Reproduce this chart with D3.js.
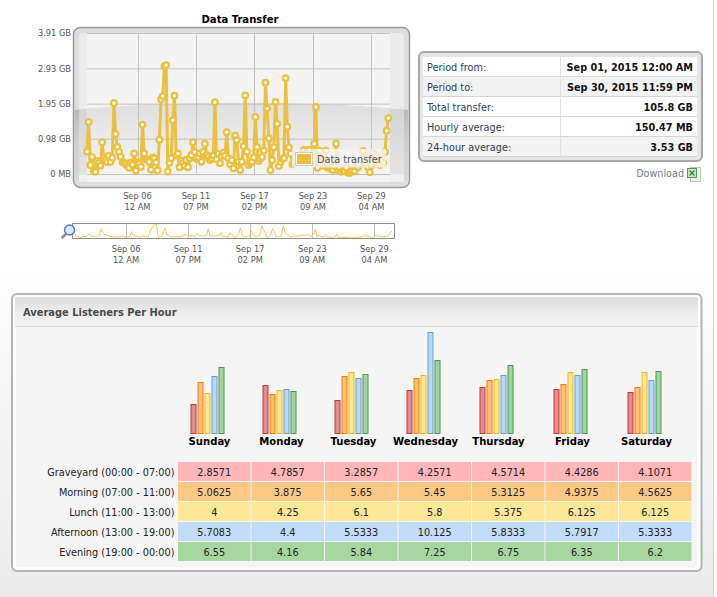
<!DOCTYPE html>
<html>
<head>
<meta charset="utf-8">
<title>Data Transfer</title>
<script src="https://cdn.jsdelivr.net/npm/d3@7"></script>
<style>
    html, body { margin: 0; padding: 0; background: #fff; overflow: hidden; }
    svg { display: block; }
    text { font-family: "DejaVu Sans Condensed", "DejaVu Sans", sans-serif; }
</style>
</head>
<body>
<div id="chart"></div>
<script>
    // GB per 4 hour slot
    var transfer = [
        0.62, 1.44, 0.25, 0.47, 0.08, 0.06, 0.36, 0.31, 0.23, 0.88,
        0.44, 0.39, 0.33, 0.50, 0.34, 0.45, 1.97, 1.11, 0.75, 0.61,
        0.48, 0.33, 0.31, 0.28, 0.22, 0.17, 0.32, 0.26, 0.57, 0.09,
        0.33, 0.28, 0.20, 1.37, 0.57, 0.41, 0.39, 0.34, 0.12, 0.46,
        0.44, 0.32, 0.10, 0.95, 2.07, 2.16, 2.99, 3.02, 0.07, 0.31,
        0.44, 1.49, 2.17, 0.51, 0.57, 0.19, 0.37, 0.31, 0.23, 0.39,
        0.19, 0.44, 0.52, 0.88, 0.61, 0.42, 0.47, 0.57, 0.34, 0.61,
        0.84, 0.53, 0.47, 0.39, 0.44, 0.51, 1.99, 0.41, 0.56, 0.30,
        0.50, 0.59, 0.51, 1.16, 0.44, 0.28, 0.38, 0.16, 1.06, 0.94,
        0.34, 0.11, 0.34, 0.77, 2.18, 0.62, 0.25, 0.31, 0.34, 0.46,
        1.58, 0.75, 0.36, 0.42, 0.47, 0.65, 2.53, 1.82, 0.99, 0.11,
        0.39, 0.74, 2.00, 1.39, 0.22, 0.34, 0.42, 0.44, 2.66, 1.31,
        0.74, 0.57, 0.27, 0.31, 0.44, 0.36, 0.50, 0.39, 0.61, 0.67,
        0.50, 0.67, 0.67, 0.44, 0.39, 0.84, 1.86, 0.17, 0.65, 0.33,
        0.28, 0.22, 0.65, 0.17, 0.19, 0.14, 0.11, 0.22, 0.84, 0.11,
        0.17, 0.06, 0.11, 0.08, 0.17, 0.04, 0.03, 0.06, 0.11, 0.08,
        0.25, 0.19, 0.28, 0.39, 0.64, 0.44, 0.31, 0.19, 0.05, 0.25,
        0.58, 0.39, 0.50, 0.31, 0.25, 0.39, 0.31, 0.61, 1.20, 1.55
    ];
    var yTicks = [0, 0.98, 1.95, 2.93, 3.91];
    var yTickLabels = ["0 MB", "0.98 GB", "1.95 GB", "2.93 GB", "3.91 GB"];
    var xTicks = [
        new Date(2015, 8, 6, 0), new Date(2015, 8, 11, 19), new Date(2015, 8, 17, 14),
        new Date(2015, 8, 23, 9), new Date(2015, 8, 29, 4)
    ];
    var periodStart = new Date(2015, 8, 1, 0, 0);
    var periodEnd = new Date(2015, 8, 30, 23, 59);

    var infoLabels = ["Period from:", "Period to:", "Total transfer:", "Hourly average:", "24-hour average:"];
    var infoValues = ["Sep 01, 2015 12:00 AM", "Sep 30, 2015 11:59 PM", "105.8 GB", "150.47 MB", "3.53 GB"];

    var days = ["Sunday", "Monday", "Tuesday", "Wednesday", "Thursday", "Friday", "Saturday"];
    var periods = ["Graveyard (00:00 - 07:00)", "Morning (07:00 - 11:00)", "Lunch (11:00 - 13:00)", "Afternoon (13:00 - 19:00)", "Evening (19:00 - 00:00)"];
    var graveyard = ["2.8571", "4.7857", "3.2857", "4.2571", "4.5714", "4.4286", "4.1071"];
    var morning = ["5.0625", "3.875", "5.65", "5.45", "5.3125", "4.9375", "4.5625"];
    var lunch = ["4", "4.25", "6.1", "5.8", "5.375", "6.125", "6.125"];
    var afternoon = ["5.7083", "4.4", "5.5333", "10.125", "5.8333", "5.7917", "5.3333"];
    var evening = ["6.55", "4.16", "5.84", "7.25", "6.75", "6.35", "6.2"];
    var listeners = [graveyard, morning, lunch, afternoon, evening];

    // colours per period
    var barFills = ["#e08c90", "#ffc27e", "#ffe88e", "#b9d8f6", "#a3d49b"];
    var barStrokes = ["#bf3a3c", "#ff7800", "#f2b71c", "#689fd3", "#4d9650"];
    var cellFills = ["#ffb7b9", "#ffc985", "#fce898", "#c0dcfa", "#a8d6a0"];

    var lineColor = "#ecc03f";

    var svg = d3.select("#chart").append("svg").attr("width", 717).attr("height", 597);
    var defs = svg.append("defs");

    function vGradient(id, stops) {
        var g = defs.append("linearGradient").attr("id", id)
            .attr("x1", 0).attr("y1", 0).attr("x2", 0).attr("y2", 1);
        stops.forEach(function (s) {
            g.append("stop").attr("offset", s[0]).attr("stop-color", s[1]);
        });
    }
    vGradient("pageBg", [[0, "#ffffff"], [0.42, "#ffffff"], [1, "#ebebeb"]]);
    vGradient("headBg", [[0, "#dcdcdc"], [0.6, "#efefef"], [1, "#f1f1f1"]]);
    vGradient("plotLow", [[0, "#dedede"], [0.5, "#ececec"], [1, "#f6f6f6"]]);
    vGradient("sideLow", [[0, "#b4b4b4"], [0.5, "#cfcfcf"], [1, "#d8d8d8"]]);
    vGradient("bandLow", [[0, "#d4d4d4"], [0.6, "#dedede"], [1, "#e6e6e6"]]);

    // page background
    svg.append("rect").attr("width", 713).attr("height", 597).attr("fill", "url(#pageBg)");
    svg.append("line").attr("x1", 713.5).attr("x2", 713.5).attr("y1", 0).attr("y2", 597).attr("stroke", "#d4d4d4");

    // ---- Data transfer chart
    var x = d3.scaleTime().domain([periodStart, periodEnd]).range([87, 390]);
    var y = d3.scaleLinear().domain([0, 3.91]).range([174, 33]);
    var slotTime = function (d, i) { return d3.timeHour.offset(periodStart, i * 4); };

    svg.append("text").attr("x", 240).attr("y", 23).attr("text-anchor", "middle")
        .attr("font-size", 11.2).attr("font-weight", "bold").attr("fill", "#000").text("Data Transfer");

    // frame, gloss and inner plot
    svg.append("rect").attr("x", 73.5).attr("y", 27.5).attr("width", 336).attr("height", 160).attr("rx", 7)
        .attr("fill", "#dedede").attr("stroke", "#9a9a9a").attr("stroke-width", 1.5);
    svg.append("rect").attr("x", 79).attr("y", 33).attr("width", 325).attr("height", 149).attr("rx", 4)
        .attr("fill", "#ececec");
    svg.append("rect").attr("x", 87).attr("y", 33).attr("width", 303).attr("height", 149).attr("fill", "#f4f4f4");
    svg.append("path").attr("d", "M74.5,110 Q240,97 408.5,110 V181 H74.5 Z").attr("fill", "url(#sideLow)");
    svg.append("path").attr("d", "M79,109.5 Q240,97 404,109.5 V182 H79 Z").attr("fill", "url(#bandLow)");
    svg.append("path").attr("d", "M87,108.5 Q240,97 390,108.5 V182 H87 Z").attr("fill", "url(#plotLow)");
    svg.append("rect").attr("x", 79).attr("y", 174.5).attr("width", 325).attr("height", 7.5).attr("fill", "#f3f3f3").attr("opacity", 0.75);

    // axes carry the grid lines
    var yAxis = svg.append("g").attr("transform", "translate(87,0)")
        .call(d3.axisLeft(y).tickValues(yTicks).tickSize(-303).tickPadding(16)
            .tickFormat(function (d, i) { return yTickLabels[i]; }));
    yAxis.select(".domain").remove();
    yAxis.selectAll("line").attr("stroke", "#c2c2c2");
    yAxis.selectAll("text").attr("font-size", 9.2).attr("fill", "#555")
        .attr("font-family", "DejaVu Sans Condensed");

    function timeAxis(scale, gridTop, gridBottom, labelY) {
        var g = svg.append("g");
        g.selectAll("line").data(xTicks).enter().append("line")
            .attr("x1", function (d) { return Math.round(scale(d)) + 0.5; })
            .attr("x2", function (d) { return Math.round(scale(d)) + 0.5; })
            .attr("y1", gridTop).attr("y2", gridBottom)
            .attr("stroke", "#c2c2c2");
        var fmtDay = d3.timeFormat("%b %d"), fmtHour = d3.timeFormat("%I %p");
        var labels = g.selectAll("text").data(xTicks).enter().append("text")
            .attr("text-anchor", "middle").attr("font-size", 9.2).attr("fill", "#555");
        labels.append("tspan").attr("x", scale).attr("y", labelY).text(fmtDay);
        labels.append("tspan").attr("x", scale).attr("y", labelY + 11).text(fmtHour);
    }
    timeAxis(x, 33, 174, 199);

    var line = d3.line().x(function (d, i) { return x(slotTime(d, i)); }).y(function (d) { return y(d); });
    svg.append("path").datum(transfer).attr("d", line)
        .attr("fill", "none").attr("stroke", lineColor).attr("stroke-width", 3).attr("stroke-linejoin", "round");
    svg.append("g").selectAll("circle").data(transfer).enter().append("circle")
        .attr("cx", function (d, i) { return x(slotTime(d, i)); })
        .attr("cy", function (d) { return y(d); })
        .attr("r", 2.8)
        .attr("fill", "#fff").attr("stroke", lineColor).attr("stroke-width", 2.2);

    // legend sits on top of the series
    svg.append("rect").attr("x", 292).attr("y", 149).attr("width", 94).attr("height", 18.5)
        .attr("fill", "#f4f4f4").attr("opacity", 0.78);
    svg.append("rect").attr("x", 295.5).attr("y", 152.5).attr("width", 17).attr("height", 13)
        .attr("fill", "#fff").attr("stroke", "#ccc");
    svg.append("rect").attr("x", 297).attr("y", 154).attr("width", 14).attr("height", 10).attr("fill", lineColor);
    svg.append("text").attr("x", 317).attr("y", 163).attr("font-size", 10.8).attr("fill", "#555").text("Data transfer");

    // ---- overview strip
    var xOver = d3.scaleTime().domain([periodStart, periodEnd]).range([72.5, 394]);
    var yOver = d3.scaleLinear().domain([0, 3.02]).range([238, 224]);
    timeAxis(xOver, 224, 238, 252);
    var overLine = d3.line().x(function (d, i) { return xOver(slotTime(d, i)); }).y(function (d) { return yOver(d); });
    svg.append("path").datum(transfer).attr("d", overLine)
        .attr("fill", "none").attr("stroke", lineColor).attr("stroke-width", 0.9);
    svg.append("rect").attr("x", 72.5).attr("y", 223.5).attr("width", 322).attr("height", 15)
        .attr("fill", "none").attr("stroke", "#8f8f8f");

    // magnifier
    svg.append("line").attr("x1", 66).attr("y1", 234).attr("x2", 61.5).attr("y2", 238)
        .attr("stroke", "#8a8a8a").attr("stroke-width", 2.4);
    svg.append("circle").attr("cx", 69.5).attr("cy", 230).attr("r", 5)
        .attr("fill", "#dbe6f6").attr("stroke", "#4f78d8").attr("stroke-width", 1.4);

    // ---- info table
    svg.append("rect").attr("x", 419).attr("y", 52).attr("width", 283).attr("height", 109).attr("rx", 5)
        .attr("fill", "#e6e6e6").attr("stroke", "#a8a8a8").attr("stroke-width", 2);
    var infoY = d3.scaleBand().domain(infoLabels).range([57, 157]);
    var infoRows = svg.append("g").selectAll("g").data(infoLabels).enter().append("g")
        .attr("transform", function (d) { return "translate(423," + infoY(d) + ")"; });
    infoRows.append("rect").attr("width", 274).attr("height", infoY.bandwidth())
        .attr("fill", function (d, i) { return (i == 1 || i == 4) ? "#f3f3f3" : "#fff"; });
    infoRows.append("line").attr("x1", 0).attr("x2", 274).attr("y1", 19.5).attr("y2", 19.5).attr("stroke", "#d6d6d6");
    infoRows.append("line").attr("x1", 137.5).attr("x2", 137.5).attr("y1", 0).attr("y2", 20).attr("stroke", "#e0e0e0");
    infoRows.append("text").attr("x", 4).attr("y", 14).attr("font-size", 10.8).attr("fill", "#2b3f52")
        .text(function (d) { return d; });
    infoRows.append("text").attr("x", 270).attr("y", 14).attr("text-anchor", "end")
        .attr("font-size", 10.8).attr("font-weight", "bold").attr("fill", "#111")
        .text(function (d, i) { return infoValues[i]; });

    svg.append("text").attr("x", 684).attr("y", 177).attr("text-anchor", "end")
        .attr("font-size", 10.7).attr("fill", "#6d7f8c").text("Download");
    // small spreadsheet icon
    svg.append("rect").attr("x", 690.5).attr("y", 167.5).attr("width", 10).attr("height", 14)
        .attr("fill", "#f4f6f6").attr("stroke", "#b9c2c4");
    svg.append("rect").attr("x", 687.5).attr("y", 168.5).attr("width", 9).attr("height", 9)
        .attr("fill", "#cfe6c4").attr("stroke", "#4f9a48");
    svg.append("path").attr("d", "M689.5,170.5 L694.5,175.5 M694.5,170.5 L689.5,175.5")
        .attr("stroke", "#2f7f2f").attr("stroke-width", 1.2);

    // ---- listeners panel
    svg.append("rect").attr("x", 12).attr("y", 294).attr("width", 689.5).attr("height", 277).attr("rx", 5)
        .attr("fill", "#fdfdfd").attr("stroke", "#b4b4b4").attr("stroke-width", 2);
    svg.append("rect").attr("x", 15).attr("y", 297).attr("width", 683).attr("height", 29).attr("fill", "url(#headBg)");
    svg.append("rect").attr("x", 16).attr("y", 327).attr("width", 681).attr("height", 240).attr("fill", "#f5f5f5");
    svg.append("line").attr("x1", 15).attr("x2", 698).attr("y1", 326.5).attr("y2", 326.5).attr("stroke", "#d6d6d6");
    svg.append("text").attr("x", 23).attr("y", 316).attr("font-size", 11).attr("font-weight", "bold")
        .attr("fill", "#4b4b4b").text("Average Listeners Per Hour");

    // bars: one group per day, centres follow the original auto sized cells
    var dayX = d3.scaleOrdinal().domain(days).range([208, 280, 352, 424, 497, 571, 645]);
    var seriesX = d3.scaleBand().domain(d3.range(5)).range([-17.5, 17.5]);
    var barY = d3.scaleLinear().domain([0, 10.125]).range([433, 331.5]);

    var dayGroups = svg.append("g").selectAll("g").data(days).enter().append("g")
        .attr("transform", function (d) { return "translate(" + dayX(d) + ",0)"; });
    dayGroups.selectAll("rect").data(function (d, i) {
        return listeners.map(function (row) { return +row[i]; });
    }).enter().append("rect")
        .attr("x", function (d, i) { return seriesX(i) + 0.5; })
        .attr("y", function (d) { return Math.round(barY(d)) + 0.5; })
        .attr("width", 5)
        .attr("height", function (d) { return 433 - Math.round(barY(d)); })
        .attr("fill", function (d, i) { return barFills[i]; })
        .attr("stroke", function (d, i) { return barStrokes[i]; });
    dayGroups.append("text").attr("x", 1.5).attr("y", 445).attr("text-anchor", "middle")
        .attr("font-size", 11.2).attr("font-weight", "bold").attr("fill", "#000")
        .text(function (d) { return d; });

    // heat table below the bars
    var colX = d3.scaleBand().domain(days).range([178, 692.5]);
    var rowY = d3.scaleBand().domain(periods).range([462, 562]);
    var rows = svg.append("g").selectAll("g").data(periods).enter().append("g")
        .attr("transform", function (d) { return "translate(0," + rowY(d) + ")"; });
    rows.append("text").attr("x", 174.5).attr("y", 14).attr("text-anchor", "end")
        .attr("font-size", 10.8).attr("fill", "#222").text(function (d) { return d; });
    rows.each(function (p, r) {
        var cells = d3.select(this).selectAll("g").data(listeners[r]).enter().append("g")
            .attr("transform", function (d, i) { return "translate(" + colX(days[i]) + ",0)"; });
        cells.append("rect").attr("width", colX.bandwidth() - 1).attr("height", rowY.bandwidth() - 1)
            .attr("fill", cellFills[r]);
        cells.append("text").attr("x", colX.bandwidth() / 2 - 0.5).attr("y", 14).attr("text-anchor", "middle")
            .attr("font-size", 10.8).attr("fill", "#222").text(function (d) { return d; });
    });
</script>
</body>
</html>
